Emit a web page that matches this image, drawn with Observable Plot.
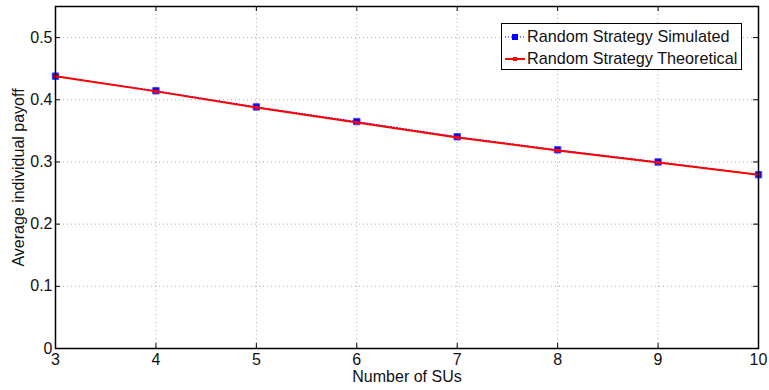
<!DOCTYPE html>
<html><head><meta charset="utf-8">
<script src="https://cdn.jsdelivr.net/npm/d3@7"></script>
<script src="https://cdn.jsdelivr.net/npm/@observablehq/plot@0.6"></script>
<style>
body{margin:0;background:#fff;font-family:"Liberation Sans",Arial,sans-serif;}
#wrap{position:relative;width:769px;height:390px;}
#legend{position:absolute;left:501px;top:23px;width:239px;height:45px;border:1px solid #000;background:#fff;font-size:16.2px;color:#111;}
#legend div{position:absolute;left:0;height:22px;line-height:22px;white-space:nowrap;}
#legend svg{vertical-align:middle;margin-left:3px;margin-right:2px;position:relative;top:-1px;}
</style>
</head><body>
<div id="wrap"></div>
<script>
const nSUs = [3, 4, 5, 6, 7, 8, 9, 10];
const simulated = [0.438, 0.4145, 0.3885, 0.365, 0.3405, 0.3195, 0.300, 0.2795];
const theoretical = [0.438, 0.4135, 0.3875, 0.3635, 0.3395, 0.3185, 0.299, 0.2795];
const xTicks = [3, 4, 5, 6, 7, 8, 9, 10];
const yTicks = [0, 0.1, 0.2, 0.3, 0.4, 0.5];
const seriesNames = ["Random Strategy Simulated", "Random Strategy Theoretical"];
const xLabel = "Number of SUs";
const yLabel = "Average individual payoff";

const simData = nSUs.map((x, i) => ({x, y: simulated[i]}));
const theoData = nSUs.map((x, i) => ({x, y: theoretical[i]}));

const W = 769, H = 390, mL = 55, mR = 11, mT = 6, mB = 42;
const fw = W - mL - mR, fh = H - mT - mB;

const chart = Plot.plot({
  width: W, height: H,
  marginLeft: mL, marginRight: mR, marginTop: mT, marginBottom: mB,
  style: {fontFamily: '"Liberation Sans", Arial, sans-serif', fontSize: "16px", color: "#111", background: "#fff"},
  x: {domain: [3, 10]},
  y: {domain: [0, 0.55]},
  marks: [
    Plot.gridX(xTicks, {stroke: "#999", strokeOpacity: 1, strokeWidth: 0.8, strokeDasharray: "1,3"}),
    Plot.gridY(yTicks, {stroke: "#999", strokeOpacity: 1, strokeWidth: 0.8, strokeDasharray: "1,3"}),
    Plot.tickX(xTicks, {x: d => d, insetTop: fh - 5, stroke: "#000"}),
    Plot.tickX(xTicks, {x: d => d, insetBottom: fh - 5, stroke: "#000"}),
    Plot.tickY(yTicks, {y: d => d, insetRight: fw - 5, stroke: "#000"}),
    Plot.tickY(yTicks, {y: d => d, insetLeft: fw - 5, stroke: "#000"}),
    Plot.axisX(xTicks, {tickSize: 0, tickPadding: 5, label: null, fontSize: 16}),
    Plot.axisY(yTicks, {tickSize: 0, tickPadding: 3, label: null, fontSize: 16, tickFormat: d => String(d)}),
    Plot.line(simData, {x: "x", y: "y", stroke: "#0000ff", strokeWidth: 1, strokeDasharray: "1,2"}),
    Plot.dot(simData, {x: "x", y: "y", symbol: "square", r: 3.6, fill: "#0000ff", stroke: "#4444ff", strokeWidth: 1}),
    Plot.line(theoData, {x: "x", y: "y", stroke: "#ff0000", strokeWidth: 2}),
    Plot.dot(theoData, {x: "x", y: "y", symbol: "square", r: 2, fill: "#ff0000"}),
    Plot.frame({stroke: "#000", strokeWidth: 1.5}),
    Plot.text([xLabel], {frameAnchor: "bottom", dy: 33, fontSize: 16, fill: "#111"}),
    Plot.text([yLabel], {frameAnchor: "left", textAnchor: "middle", dx: -37, rotate: -90, fontSize: 16, fill: "#111"})
  ]
});
const wrap = document.getElementById("wrap");
wrap.appendChild(chart);

const legend = document.createElement("div");
legend.id = "legend";
legend.innerHTML = `
<div style="top:1px"><svg width="20" height="10"><line x1="0" y1="5" x2="20" y2="5" stroke="#0000ff" stroke-dasharray="1,2"/><rect x="7" y="2" width="6" height="6" fill="#0000ff"/></svg>${seriesNames[0]}</div>
<div style="top:23px"><svg width="20" height="10"><line x1="0" y1="5" x2="20" y2="5" stroke="#ff0000" stroke-width="2"/><rect x="8" y="3" width="4" height="4" fill="#ff0000"/></svg>${seriesNames[1]}</div>`;
wrap.appendChild(legend);
</script>
</body></html>
